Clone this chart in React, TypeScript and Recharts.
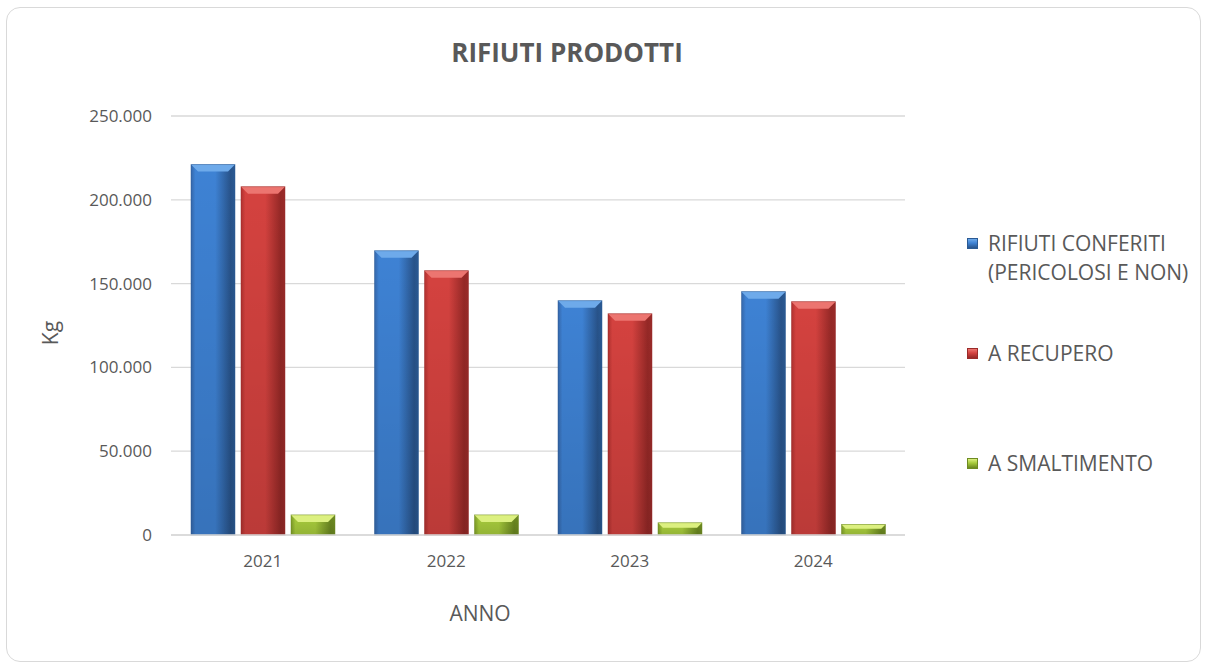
import React from 'react';
import { BarChart, Bar, XAxis, YAxis, CartesianGrid } from 'recharts';

const years = ['2021', '2022', '2023', '2024'];
const conferiti = [221000, 169600, 139800, 145200];
const recupero = [207800, 157700, 132000, 139200];
const smaltimento = [12000, 12000, 7300, 6300];
const yTicks = [0, 50000, 100000, 150000, 200000, 250000];
const seriesNames = ['RIFIUTI CONFERITI\n(PERICOLOSI E NON)', 'A RECUPERO', 'A SMALTIMENTO'];
const seriesKeys = ['conferiti', 'recupero', 'smaltimento'];

const data = years.map((y, i) => ({
  year: y,
  conferiti: conferiti[i],
  recupero: recupero[i],
  smaltimento: smaltimento[i],
}));

const palettes: Record<string, { edgeL: string; mid: string; edgeR: string; bevel: string; rim: string }> = {
  conferiti: { edgeL: '#3567aa', mid: '#3e82d4', edgeR: '#28538a', bevel: '#6eaaea', rim: '#2a5a94' },
  recupero: { edgeL: '#b0312f', mid: '#d4423f', edgeR: '#952826', bevel: '#ec7570', rim: '#9a2b29' },
  smaltimento: { edgeL: '#7f9e28', mid: '#a7cb3c', edgeR: '#6a8720', bevel: '#dcf080', rim: '#6e8b22' },
};

const FONT = '"Open Sans", sans-serif';
const GRAY = '#595959';

function makeShape(key: string) {
  const p = palettes[key];
  return (props: any) => {
    const { x, y, width, height, index } = props;
    if (!height || height <= 0) return <g />;
    const id = `grad-${key}-${index}`;
    const idV = `gradv-${key}-${index}`;
    const b = Math.min(7, height / 2.5);
    return (
      <g>
        <defs>
          <linearGradient id={id} x1="0" y1="0" x2="1" y2="0">
            <stop offset="0%" stopColor={p.edgeL} />
            <stop offset="10%" stopColor={p.mid} />
            <stop offset="55%" stopColor={p.mid} />
            <stop offset="90%" stopColor={p.edgeR} />
            <stop offset="100%" stopColor={p.rim} />
          </linearGradient>
          <linearGradient id={idV} x1="0" y1="0" x2="0" y2="1">
            <stop offset="0%" stopColor="#000" stopOpacity={0} />
            <stop offset="100%" stopColor="#000" stopOpacity={0.12} />
          </linearGradient>
        </defs>
        <rect x={x} y={y} width={width} height={height} fill={`url(#${id})`} />
        <rect x={x} y={y} width={width} height={height} fill={`url(#${idV})`} />
        <polygon
          points={`${x},${y} ${x + width},${y} ${x + width - b},${y + b} ${x + b},${y + b}`}
          fill={p.bevel}
        />
        <rect x={x} y={y} width={width} height={height} fill="none" stroke={p.rim} strokeWidth={0.8} strokeOpacity={0.6} />
      </g>
    );
  };
}

const fmt = (v: number) => v.toLocaleString('de-DE');

export default function App() {
  const swatch = [palettes.conferiti, palettes.recupero, palettes.smaltimento];
  const legendTops = [229, 339, 449];
  return (
    <div style={{ position: 'absolute', left: 0, top: 0, width: 1207, height: 665, background: '#fff', fontFamily: FONT }}>
      <div
        style={{
          position: 'absolute',
          left: 6,
          top: 7,
          width: 1193,
          height: 653,
          border: '1px solid #d9d9d9',
          borderRadius: 14,
        }}
      />
      <div
        style={{
          position: 'absolute',
          left: 367,
          width: 400,
          top: 34,
          textAlign: 'center',
          fontSize: 26,
          fontWeight: 700,
          color: GRAY,
          lineHeight: '36px',
        }}
      >
        RIFIUTI PRODOTTI
      </div>
      <div style={{ position: 'absolute', left: 0, top: 0 }}>
        <BarChart
          width={1207}
          height={665}
          data={data}
          margin={{ top: 116, right: 302, bottom: 100, left: 0 }}
          barCategoryGap={20}
          barGap={6}
        >
          <CartesianGrid vertical={false} stroke="#d9d9d9" strokeWidth={1.3} />
          <XAxis
            dataKey="year"
            height={30}
            axisLine={{ stroke: '#d9d9d9', strokeWidth: 1.3 }}
            tickLine={false}
            tickSize={0}
            tickMargin={20}
            tick={{ fill: GRAY, fontSize: 17, fontFamily: FONT }}
          />
          <YAxis
            width={171}
            domain={[0, 250000]}
            ticks={yTicks}
            tickFormatter={fmt}
            axisLine={false}
            tickLine={false}
            tickSize={0}
            tickMargin={19}
            tick={{ fill: GRAY, fontSize: 17, fontFamily: FONT }}
          />
          {seriesKeys.map((k) => (
            <Bar key={k} dataKey={k} isAnimationActive={false} shape={makeShape(k)} />
          ))}
        </BarChart>
      </div>
      <div
        style={{
          position: 'absolute',
          left: 28,
          top: 333,
          width: 60,
          marginLeft: -30,
          marginTop: -15,
          lineHeight: '30px',
          textAlign: 'center',
          fontSize: 21,
          color: GRAY,
          transform: 'translate(22px,0) rotate(-90deg)',
        }}
      >
        Kg
      </div>
      <div
        style={{
          position: 'absolute',
          left: 380,
          width: 200,
          top: 598,
          textAlign: 'center',
          fontSize: 21,
          color: GRAY,
          lineHeight: '30px',
        }}
      >
        ANNO
      </div>
      {seriesNames.map((name, i) => (
        <div
          key={name}
          style={{ position: 'absolute', left: 967, top: legendTops[i], display: 'flex', alignItems: 'flex-start' }}
        >
          <div
            style={{
              width: 11,
              height: 11,
              marginTop: 9,
              marginRight: 10,
              background: `linear-gradient(180deg, ${swatch[i].bevel} 0%, ${swatch[i].mid} 45%, ${swatch[i].edgeR} 100%)`,
              border: `1px solid ${swatch[i].rim}`,
              boxSizing: 'border-box',
            }}
          />
          <div style={{ fontSize: 21, color: GRAY, lineHeight: '29px', whiteSpace: 'pre' }}>{name}</div>
        </div>
      ))}
    </div>
  );
}
